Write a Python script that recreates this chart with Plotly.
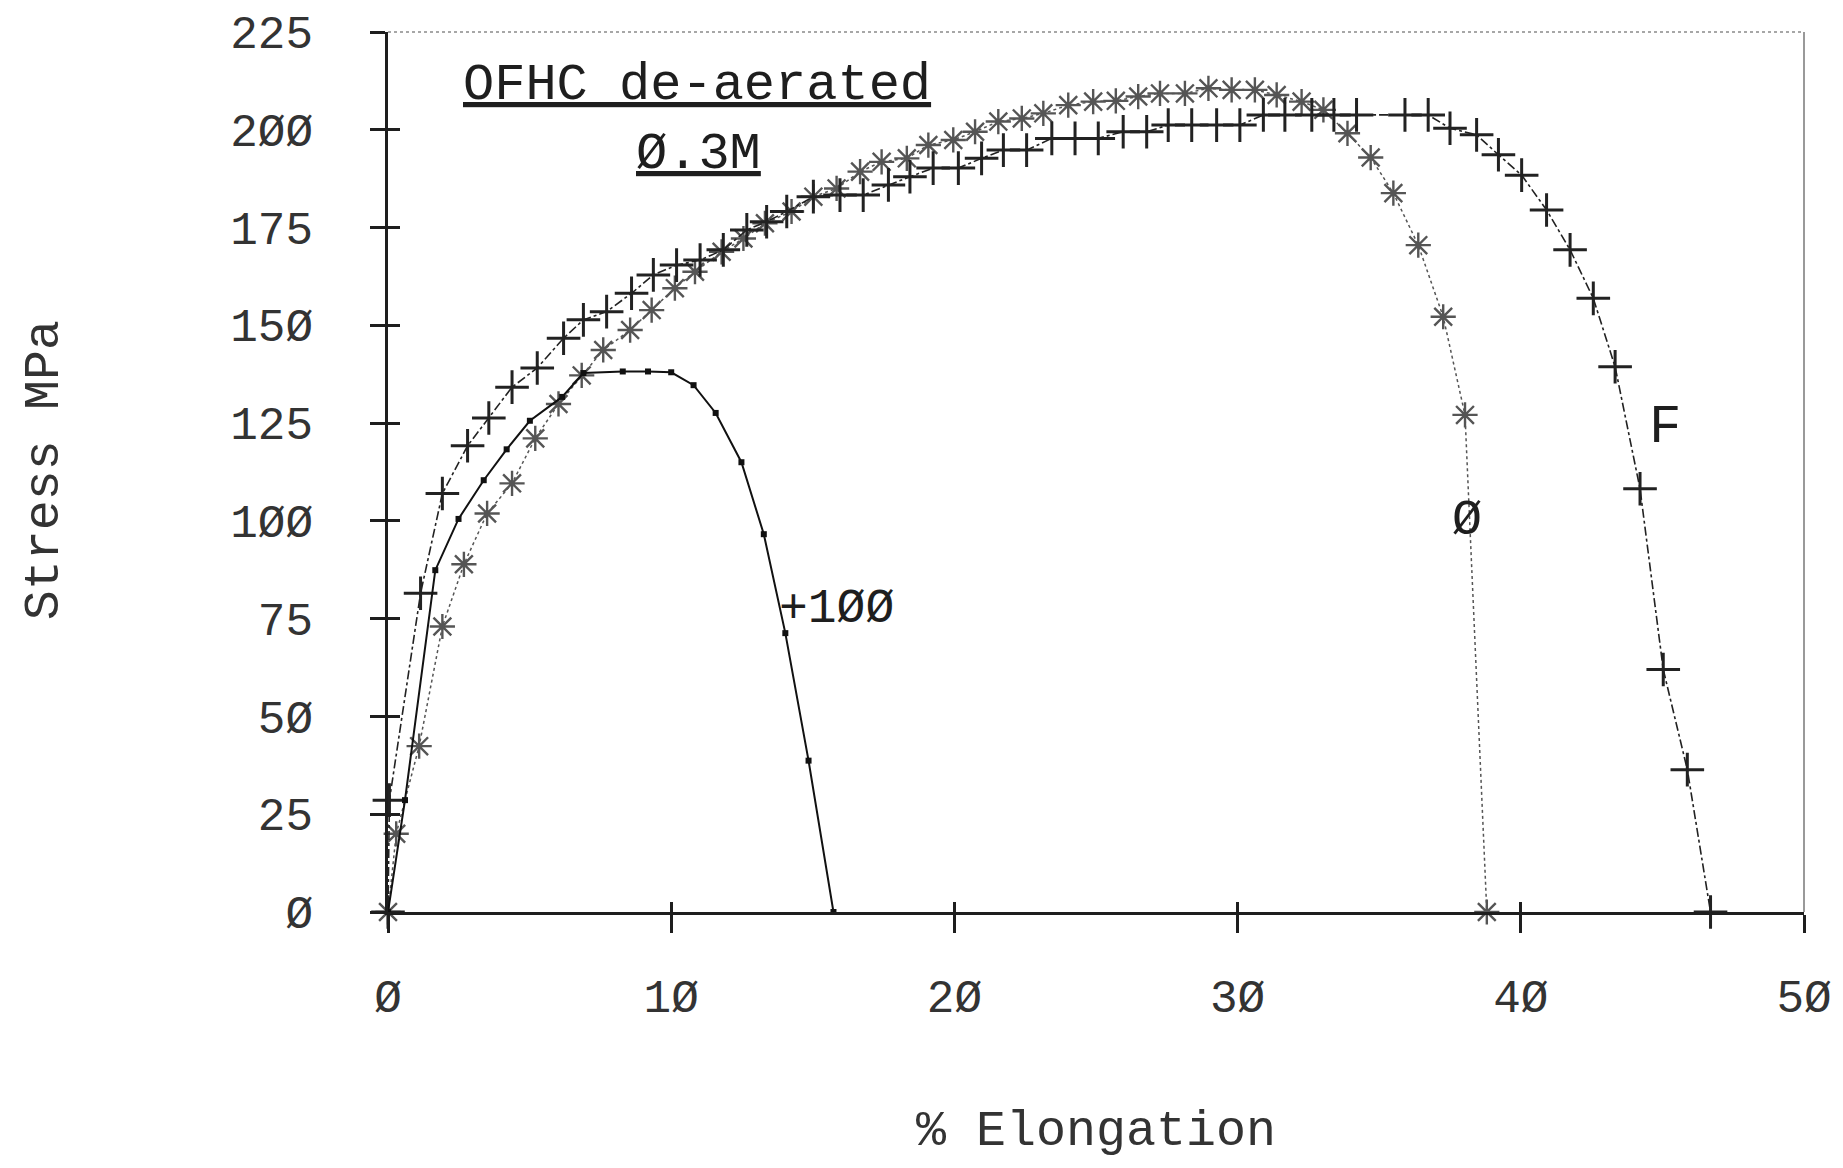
import plotly.graph_objects as go

# ---- data (x = % elongation, y = stress MPa) ----
elong_p100 = [0.0, 0.6, 1.67, 2.49, 3.38, 4.19, 5.01, 6.15, 6.9, 8.29, 9.18, 10.0,
              10.79, 11.57, 12.48, 13.27, 14.03, 14.85, 15.73]
stress_p100 = [0, 28.6, 87.4, 100.5, 110.4, 118.3, 125.6, 131.7, 137.8, 138.2, 138.2, 138.0,
               134.7, 127.6, 115.0, 96.6, 71.3, 38.7, 0]

elong_0 = [0.0, 0.29, 1.10, 1.92, 2.68, 3.50, 4.38, 5.20, 6.02, 6.84, 7.60, 8.55, 9.31,
           10.13, 10.84, 11.78, 12.55, 13.31, 14.25, 15.02, 15.84, 16.67, 17.43, 18.32,
           19.08, 19.96, 20.73, 21.55, 22.38, 23.14, 24.02, 24.90, 25.70, 26.49, 27.26,
           28.14, 28.97, 29.79, 30.61, 31.38, 32.26, 33.03, 33.88, 34.70, 35.50, 36.38,
           37.26, 38.03, 38.80]
stress_0 = [0, 20.0, 42.4, 73.0, 88.9, 101.9, 109.6, 121.1, 129.9, 137.2, 143.7, 148.8, 153.9,
            159.5, 163.7, 168.8, 172.2, 176.1, 179.1, 182.9, 185.0, 189.3, 191.8, 192.7,
            196.1, 197.4, 199.5, 202.1, 202.9, 204.2, 206.3, 207.2, 207.4, 208.5, 209.3,
            209.3, 210.6, 210.2, 210.2, 208.9, 207.2, 205.1, 199.1, 192.9, 183.8, 170.5,
            152.2, 127.1, 0]

elong_f = [0.0, 0.05, 1.15, 1.92, 2.81, 3.56, 4.38, 5.27, 6.20, 6.90, 7.72, 8.60, 9.37,
           10.19, 11.02, 11.84, 12.67, 13.37, 14.08, 15.02, 15.96, 16.78, 17.67, 18.43,
           19.25, 20.14, 20.96, 21.73, 22.55, 23.44, 24.26, 25.08, 25.96, 26.79, 27.55,
           28.38, 29.26, 30.08, 30.91, 31.67, 32.62, 33.40, 34.20, 35.91, 36.73, 37.50,
           38.44, 39.21, 40.03, 40.91, 41.74, 42.56, 43.33, 44.21, 45.03, 45.88, 46.70]
stress_f = [0, 28.6, 81.5, 107.0, 119.2, 126.3, 134.2, 139.1, 146.7, 151.4, 153.5, 158.2, 162.9,
            165.4, 166.7, 169.3, 174.4, 176.5, 179.1, 182.9, 183.3, 183.3, 185.9, 188.0,
            190.2, 190.2, 192.7, 194.8, 194.8, 197.8, 197.8, 197.8, 199.5, 199.5, 201.2,
            201.2, 201.2, 201.2, 203.8, 203.8, 203.8, 203.8, 203.8, 203.8, 203.8, 200.4,
            198.7, 193.6, 188.4, 179.5, 169.3, 156.9, 139.4, 108.2, 62.0, 36.4, 0]

ytick_vals = [0, 25, 50, 75, 100, 125, 150, 175, 200, 225]
ytick_text = ["Ø", "25", "5Ø", "75", "1ØØ", "125", "15Ø", "175", "2ØØ", "225"]
xtick_vals = [0, 10, 20, 30, 40, 50]
xtick_text = ["Ø", "1Ø", "2Ø", "3Ø", "4Ø", "5Ø"]

FONT = "Liberation Mono, DejaVu Sans Mono, monospace"
INK = "#1e1e1e"

fig = go.Figure()

fig.add_trace(go.Scatter(
    x=elong_0, y=stress_0, mode="lines+markers",
    line=dict(color="#555555", width=1.5, dash="dot"),
    marker=dict(symbol="asterisk-open", size=21, line=dict(width=2.4, color="#2a2a2a")),
    cliponaxis=False, showlegend=False))

fig.add_trace(go.Scatter(
    x=elong_f, y=stress_f, mode="lines+markers",
    line=dict(color="#222222", width=1.6, dash="dashdot"),
    marker=dict(symbol="cross-thin-open", size=24, line=dict(width=3, color="#111111")),
    cliponaxis=False, showlegend=False))

fig.add_trace(go.Scatter(
    x=elong_p100, y=stress_p100, mode="lines+markers",
    line=dict(color="#111111", width=2),
    marker=dict(symbol="square", size=6, color="#111111"),
    cliponaxis=False, showlegend=False))

# empty trace so the overlay axes (inner tick halves) exist
fig.add_trace(go.Scatter(x=[], y=[], xaxis="x2", yaxis="y2", showlegend=False))

# page body has an 8px margin: size the figure and margins to compensate
fig.update_layout(
    width=1827, height=1152,
    margin=dict(l=380, r=31, t=24, b=248, autoexpand=False),
    paper_bgcolor="white", plot_bgcolor="white",
    font=dict(family=FONT, color=INK),
    xaxis=dict(range=[0, 50], tickvals=xtick_vals, ticktext=xtick_text,
               ticks="outside", ticklen=18, tickwidth=2.5, tickcolor=INK,
               ticklabelstandoff=24, automargin=False,
               tickfont=dict(family=FONT, size=46, color="#333333"),
               showline=True, linecolor=INK, linewidth=2.5,
               showgrid=False, zeroline=False),
    yaxis=dict(range=[0, 225], tickvals=ytick_vals, ticktext=ytick_text,
               ticks="outside", ticklen=15, tickwidth=2.5, tickcolor=INK,
               ticklabelstandoff=48, automargin=False,
               tickfont=dict(family=FONT, size=46, color="#333333"),
               showline=True, linecolor=INK, linewidth=2.5,
               showgrid=False, zeroline=False),
    xaxis2=dict(overlaying="x", anchor="y2", side="bottom", range=[0, 50],
                tickvals=xtick_vals, ticks="inside", ticklen=10, tickwidth=2.5,
                tickcolor=INK, showticklabels=False, showline=False,
                showgrid=False, zeroline=False, automargin=False),
    yaxis2=dict(overlaying="y", anchor="x2", side="left", range=[0, 225],
                tickvals=ytick_vals, ticks="inside", ticklen=12, tickwidth=2.5,
                tickcolor=INK, showticklabels=False, showline=False,
                showgrid=False, zeroline=False, automargin=False),
    shapes=[
        dict(type="line", xref="paper", yref="paper", x0=0, x1=1, y0=1, y1=1,
             line=dict(color="#8a8a8a", width=1.5, dash="dot")),
        dict(type="line", xref="paper", yref="paper", x0=1, x1=1, y0=0, y1=1,
             line=dict(color="#777777", width=1.5)),
    ],
)

annots = [
    dict(x=10.91, y=211.3, text="<u>OFHC de-aerated</u>", size=52),
    dict(x=10.95, y=193.6, text="<u>Ø.3M</u>", size=52),
    dict(x=15.85, y=77.5, text="+1ØØ", size=48),
    dict(x=45.1, y=124.0, text="F", size=54),
    dict(x=38.1, y=100.0, text="Ø", size=50),
]
for a in annots:
    fig.add_annotation(x=a["x"], y=a["y"], xref="x", yref="y", text=a["text"],
                       showarrow=False, xanchor="center", yanchor="middle",
                       font=dict(family=FONT, size=a["size"], color=INK))

fig.add_annotation(x=0.5, y=-0.249, xref="paper", yref="paper", text="% Elongation",
                   showarrow=False, xanchor="center", yanchor="middle",
                   font=dict(family=FONT, size=50, color="#333333"))
fig.add_annotation(x=-0.243, y=0.502, xref="paper", yref="paper", text="Stress MPa",
                   showarrow=False, xanchor="center", yanchor="middle", textangle=-90,
                   font=dict(family=FONT, size=50, color="#333333"))

fig.write_html("out.html")
